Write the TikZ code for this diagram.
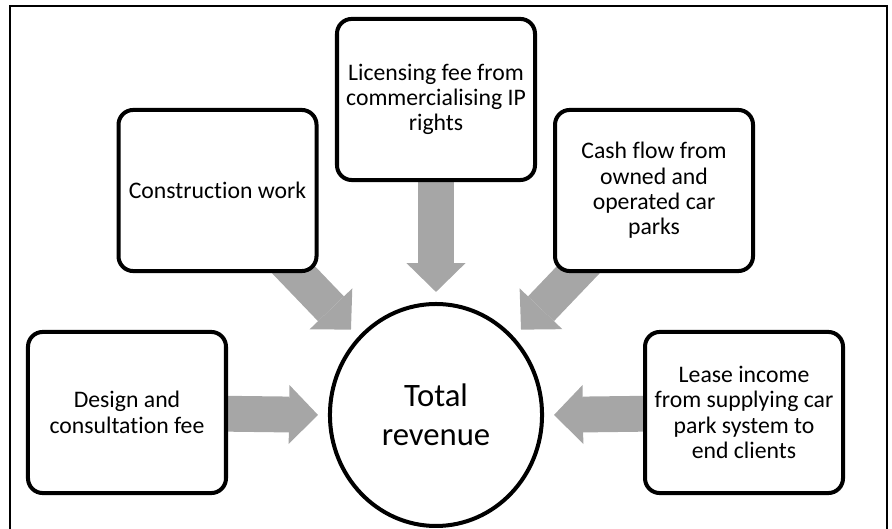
\documentclass[tikz,border=0pt]{standalone}
\usepackage{fontspec}
\setmainfont{Carlito}[Ligatures=NoCommon]
\definecolor{flowgray}{RGB}{166,166,166}
\usetikzlibrary{arrows.meta,shapes.geometric,backgrounds}

\begin{document}
\begin{tikzpicture}[
  every node/.style={font=\fontsize{22.5}{24}\selectfont},
  srcbox/.style={draw,line width=3.8pt,rounded corners=14pt,fill=white,
                 minimum width=6.6cm,minimum height=5.37cm,align=center,inner sep=2pt},
  hub/.style={ellipse,draw,line width=3.8pt,fill=white,minimum width=7.07cm,
              minimum height=7.4cm,align=center,inner sep=0pt,
              font=\fontsize{31}{37}\selectfont},
  flow/.style={line width=34pt,flowgray,shorten >=9.5pt,
               -{Triangle[width=56pt,length=27.4pt,line width=0pt]}},
]
  \useasboundingbox (0,0) rectangle (29.733,17.633);

  % Outer frame (open at the bottom)
  \draw[line width=1.9pt] (0.333,-0.3) -- (0.333,17.433) -- (29.567,17.433) -- (29.567,-0.3);

  % Revenue sources
  \node[srcbox] (construction) at (7.25,11.283) {Construction work};
  \node[srcbox] (licensing) at (14.533,14.317)
    {Licensing fee from\\commercialising IP\\rights};
  \node[srcbox] (cashflow) at (21.8,11.283)
    {Cash flow from\\owned and\\operated car\\parks};
  \node[srcbox] (design) at (4.233,3.883)
    {Design and\\consultation fee};
  \node[srcbox] (lease) at (24.8,3.883)
    {Lease income\\from supplying car\\park system to\\end clients};

  % Total
  \node[hub] (total) at (14.533,3.8) {Total\\revenue};

  % Arrows
  \begin{scope}[on background layer]
    \draw[flow] (design.center) -- (total.west);
    \draw[flow] (construction.center) -- (total.135);
    \draw[flow] (licensing.center) -- (total.north);
    \draw[flow] (cashflow.center) -- (total.45);
    \draw[flow] (lease.center) -- (total.east);
  \end{scope}
\end{tikzpicture}
\end{document}
